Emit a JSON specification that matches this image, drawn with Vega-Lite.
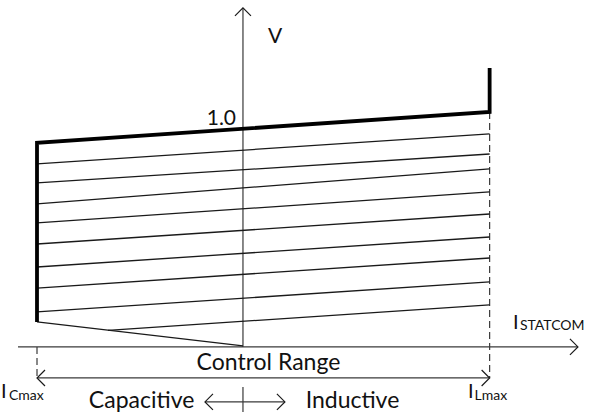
{
  "$schema": "https://vega.github.io/schema/vega-lite/v6.json",
  "width": 592,
  "height": 412,
  "padding": 0,
  "autosize": {"type": "none"},
  "background": "white",
  "config": {"view": {"stroke": null}},
  "datasets": {
    "envelope": [
      {"i": -0.835, "v": 0.114, "step": 0},
      {"i": -0.835, "v": 0.932, "step": 1},
      {"i": 1.0, "v": 1.073, "step": 2},
      {"i": 1.0, "v": 1.274, "step": 3}
    ],
    "slopes": [
      {"i": -0.835, "v": 0.836, "i2": 1.0, "v2": 0.973},
      {"i": -0.835, "v": 0.749, "i2": 1.0, "v2": 0.881},
      {"i": -0.835, "v": 0.653, "i2": 1.0, "v2": 0.813},
      {"i": -0.835, "v": 0.566, "i2": 1.0, "v2": 0.708},
      {"i": -0.835, "v": 0.47, "i2": 1.0, "v2": 0.607},
      {"i": -0.835, "v": 0.365, "i2": 1.0, "v2": 0.502},
      {"i": -0.835, "v": 0.269, "i2": 1.0, "v2": 0.406},
      {"i": -0.835, "v": 0.16, "i2": 1.0, "v2": 0.297},
      {"i": -0.547, "v": 0.076, "i2": 1.0, "v2": 0.192},
      {"i": -0.835, "v": 0.114, "i2": 0.0, "v2": 0.005}
    ],
    "axes": [
      {"i": -0.912, "v": 0.0, "i2": 1.358, "v2": 0.0},
      {"i": 0.0, "v": 0.0, "i2": 0.0, "v2": 1.548},
      {"i": -0.835, "v": -0.1416, "i2": 1.0, "v2": -0.1416},
      {"i": -0.154, "v": -0.251, "i2": 0.17, "v2": -0.251},
      {"i": 0.0, "v": -0.183, "i2": 0.0, "v2": -0.297}
    ],
    "limits": [
      {"i": -0.835, "v": 0.0, "i2": -0.835, "v2": -0.1416},
      {"i": 1.0, "v": 1.073, "i2": 1.0, "v2": -0.1416}
    ],
    "heads": [
      {"i": 1.358, "v": 0.0, "dir": "right"},
      {"i": 0.0, "v": 1.548, "dir": "up"},
      {"i": -0.835, "v": -0.1416, "dir": "left"},
      {"i": 1.0, "v": -0.1416, "dir": "right"},
      {"i": -0.154, "v": -0.251, "dir": "left"},
      {"i": 0.17, "v": -0.251, "dir": "right"}
    ],
    "captions": [
      {"text": "Control Range", "i": 0.1034, "v": -0.105},
      {"text": "Capacitive", "i": -0.411, "v": -0.2785},
      {"text": "Inductive", "i": 0.444, "v": -0.2785}
    ],
    "symbols": [
      {"text": "I", "i": 1.0946, "v": 0.0822},
      {"text": "I", "i": -0.981, "v": -0.2329},
      {"text": "I", "i": 0.912, "v": -0.2329}
    ],
    "subscripts": [
      {"text": "STATCOM", "i": 1.123, "v": 0.0776},
      {"text": "Cmax", "i": -0.949, "v": -0.242},
      {"text": "Lmax", "i": 0.939, "v": -0.242}
    ]
  },
  "layer": [
    {
      "data": {"name": "axes"},
      "mark": {"type": "rule", "stroke": "#3a3a3a", "strokeWidth": 1.2},
      "encoding": {
        "x": {"field": "i", "type": "quantitative", "scale": {"domain": [-0.985, 1.415], "nice": false, "zero": false}, "axis": null},
        "y": {"field": "v", "type": "quantitative", "scale": {"domain": [-0.297, 1.584], "nice": false, "zero": false}, "axis": null},
        "x2": {"field": "i2"},
        "y2": {"field": "v2"}
      }
    },
    {
      "data": {"name": "limits"},
      "mark": {"type": "rule", "stroke": "#3a3a3a", "strokeWidth": 1.2, "strokeDash": [7, 4]},
      "encoding": {
        "x": {"field": "i", "type": "quantitative", "axis": null},
        "y": {"field": "v", "type": "quantitative", "axis": null},
        "x2": {"field": "i2"},
        "y2": {"field": "v2"}
      }
    },
    {
      "data": {"name": "slopes"},
      "mark": {"type": "rule", "stroke": "#1a1a1a", "strokeWidth": 1.3},
      "encoding": {
        "x": {"field": "i", "type": "quantitative", "axis": null},
        "y": {"field": "v", "type": "quantitative", "axis": null},
        "x2": {"field": "i2"},
        "y2": {"field": "v2"}
      }
    },
    {
      "data": {"name": "envelope"},
      "mark": {"type": "line", "stroke": "#000000", "strokeWidth": 3.8, "strokeJoin": "miter", "strokeCap": "butt"},
      "encoding": {
        "x": {"field": "i", "type": "quantitative", "axis": null},
        "y": {"field": "v", "type": "quantitative", "axis": null},
        "order": {"field": "step", "type": "quantitative"}
      }
    },
    {
      "data": {"name": "heads"},
      "mark": {"type": "point", "filled": false, "stroke": "#1a1a1a", "strokeWidth": 1.2, "size": 256, "opacity": 1},
      "encoding": {
        "x": {"field": "i", "type": "quantitative", "axis": null},
        "y": {"field": "v", "type": "quantitative", "axis": null},
        "shape": {
          "field": "dir",
          "type": "nominal",
          "scale": {"domain": ["right", "left", "up"], "range": ["M-1,-1L0,0L-1,1", "M1,-1L0,0L1,1", "M-1,1L0,0L1,1"]},
          "legend": null
        }
      }
    },
    {
      "data": {"name": "captions"},
      "mark": {"type": "text", "font": "Lato", "fontSize": 23, "align": "center", "baseline": "alphabetic", "color": "#111111"},
      "encoding": {
        "x": {"field": "i", "type": "quantitative", "axis": null},
        "y": {"field": "v", "type": "quantitative", "axis": null},
        "text": {"field": "text"}
      }
    },
    {
      "data": {"values": [{"text": "1.0", "i": -0.028, "v": 1.0137}]},
      "mark": {"type": "text", "font": "Lato", "fontSize": 21, "align": "right", "baseline": "alphabetic", "color": "#111111"},
      "encoding": {
        "x": {"field": "i", "type": "quantitative", "axis": null},
        "y": {"field": "v", "type": "quantitative", "axis": null},
        "text": {"field": "text"}
      }
    },
    {
      "data": {"values": [{"text": "V", "i": 0.13, "v": 1.388}]},
      "mark": {"type": "text", "font": "Lato", "fontSize": 21, "align": "center", "baseline": "alphabetic", "color": "#111111"},
      "encoding": {
        "x": {"field": "i", "type": "quantitative", "axis": null},
        "y": {"field": "v", "type": "quantitative", "axis": null},
        "text": {"field": "text"}
      }
    },
    {
      "data": {"name": "symbols"},
      "mark": {"type": "text", "font": "Lato", "fontSize": 20, "align": "left", "baseline": "alphabetic", "color": "#111111"},
      "encoding": {
        "x": {"field": "i", "type": "quantitative", "axis": null},
        "y": {"field": "v", "type": "quantitative", "axis": null},
        "text": {"field": "text"}
      }
    },
    {
      "data": {"name": "subscripts"},
      "mark": {"type": "text", "font": "Lato", "fontSize": 14, "align": "left", "baseline": "alphabetic", "color": "#111111"},
      "encoding": {
        "x": {"field": "i", "type": "quantitative", "axis": null},
        "y": {"field": "v", "type": "quantitative", "axis": null},
        "text": {"field": "text"}
      }
    }
  ]
}
